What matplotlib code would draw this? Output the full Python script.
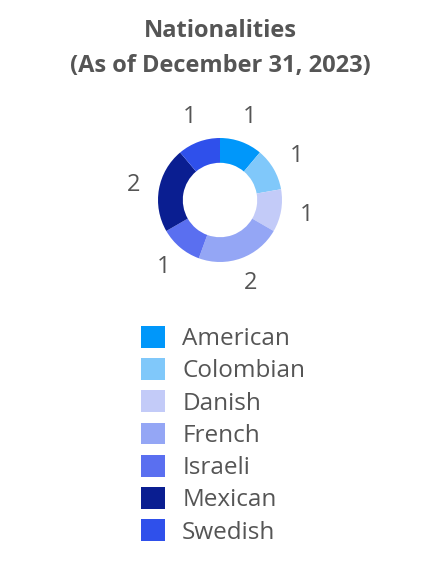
import matplotlib.pyplot as plt
from matplotlib.patches import Patch

nationalities = ["American", "Colombian", "Danish", "French", "Israeli", "Mexican", "Swedish"]
counts = [1, 1, 1, 2, 1, 2, 1]
colors = ["#0097FA", "#80C8FA", "#C3CBF8", "#94A6F5", "#5A6FF0", "#0A1E91", "#2F50EB"]

plt.rcParams['font.family'] = ['Open Sans', 'DejaVu Sans']
gray = "#555555"

fig = plt.figure(figsize=(4.4, 5.76), dpi=100)

fig.text(0.5, 1 - 31/576, "Nationalities", ha="center", va="center",
         fontsize=17, fontweight="bold", color=gray)
fig.text(0.5, 1 - 66/576, "(As of December 31, 2023)", ha="center", va="center",
         fontsize=17, fontweight="bold", color=gray)

# donut centred at (220, 200) px, outer radius 62 px
ax = fig.add_axes([(220 - 62)/440, 1 - (200 + 62)/576, 124/440, 124/576])
wedges, texts = ax.pie(counts, colors=colors, startangle=90, counterclock=False,
                       labels=[str(c) for c in counts], labeldistance=1.42,
                       wedgeprops=dict(width=0.4, edgecolor="none"),
                       textprops=dict(fontsize=17, color=gray))
for t in texts:
    t.set_ha("center")
    t.set_va("center")
ax.set_xlim(-1, 1)
ax.set_ylim(-1, 1)
ax.set_aspect("equal")
ax.axis("off")

handles = [Patch(facecolor=c, edgecolor="none") for c in colors]
fig.legend(handles, nationalities, loc="upper left",
           bbox_to_anchor=(119/440, 1 - 304/576), frameon=False,
           fontsize=17.5, labelcolor=gray, handlelength=1.0, handleheight=1.0,
           handletextpad=0.7, labelspacing=0.29, borderpad=0.4)

fig.savefig("out.png", dpi=100)
